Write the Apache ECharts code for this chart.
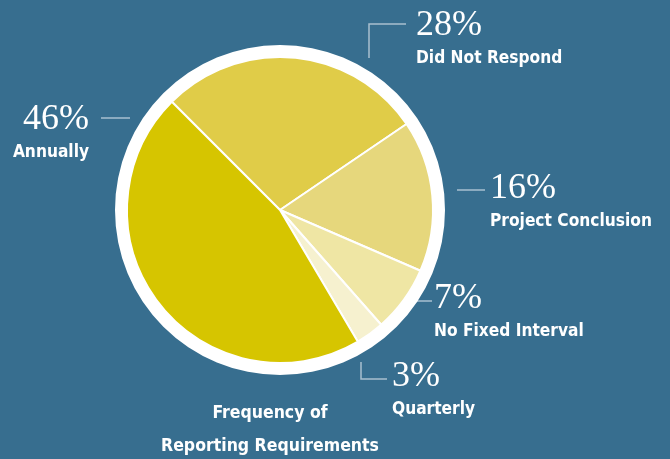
<!DOCTYPE html>
<html>
<head>
<meta charset="utf-8">
<script src="https://cdn.jsdelivr.net/npm/echarts@6/dist/echarts.min.js"></script>
<style>
  html, body { margin: 0; padding: 0; background: #376e8f; }
  #chart { width: 670px; height: 459px; }
</style>
</head>
<body>
<div id="chart"></div>
<script>
// data, clockwise from the upper-left edge of the pie
var categories = ['Did Not Respond', 'Project Conclusion', 'No Fixed Interval', 'Quarterly', 'Annually'];
var percents = [28, 16, 7, 3, 46];
var sliceColors = ['#e0cc48', '#e6d77c', '#efe6a4', '#f6f1cf', '#d6c500'];

// where each label sits (text anchor + bent leader line)
var labelPos = [
    { x: 416, y: 7, align: 'left', line: [[369, 58], [369, 24], [406, 24]] },
    { x: 490, y: 170, align: 'left', line: [[457, 190], [470, 190], [485, 190]] },
    { x: 434, y: 280, align: 'left', line: [[405, 301], [418, 301], [432, 301]] },
    { x: 392, y: 358, align: 'left', line: [[361, 362], [361, 379], [387, 379]] },
    { x: 89, y: 101, align: 'right', line: [[101, 118], [115, 118], [130, 118]] }
];

var sansNarrow = '"Liberation Sans Narrow", "DejaVu Sans Condensed", sans-serif';
var serif = '"Liberation Serif", "DejaVu Serif", serif';

var chart = echarts.init(document.getElementById('chart'));

var pieData = categories.map((name, i) => ({
    name: name,
    value: percents[i],
    itemStyle: { color: sliceColors[i] }
}));

var option = {
    backgroundColor: '#376e8f',
    animation: false,
    title: {
        text: 'Frequency of\nReporting Requirements',
        left: 265,
        top: 392,
        textAlign: 'center',
        textStyle: {
            color: '#ffffff',
            fontFamily: sansNarrow,
            fontWeight: 'bold',
            fontSize: 17.5,
            lineHeight: 33
        }
    },
    series: [
        {
            // white outer ring
            type: 'pie',
            silent: true,
            center: [280, 210],
            radius: [150, 165],
            label: { show: false },
            labelLine: { show: false },
            itemStyle: { color: '#ffffff' },
            data: [{ value: 1, name: 'ring' }]
        },
        {
            type: 'pie',
            center: [280, 210],
            radius: [0, 153],
            startAngle: 135,
            clockwise: true,
            avoidLabelOverlap: false,
            itemStyle: { borderColor: '#ffffff', borderWidth: 2 },
            data: pieData,
            label: {
                show: true,
                formatter: p => '{p|' + p.value + '%}\n{n|' + p.name + '}',
                rich: {
                    p: { color: '#ffffff', fontFamily: serif, fontSize: 36, lineHeight: 38 },
                    n: { color: '#ffffff', fontFamily: sansNarrow, fontWeight: 'bold', fontSize: 17.2, lineHeight: 27 }
                }
            },
            labelLine: {
                show: true,
                lineStyle: { color: '#a9c0d0', width: 1.5 }
            },
            labelLayout: function (params) {
                var pos = labelPos[params.dataIndex];
                return {
                    x: pos.x,
                    y: pos.y,
                    align: pos.align,
                    verticalAlign: 'top',
                    labelLinePoints: pos.line
                };
            }
        }
    ]
};

chart.setOption(option);
</script>
</body>
</html>
